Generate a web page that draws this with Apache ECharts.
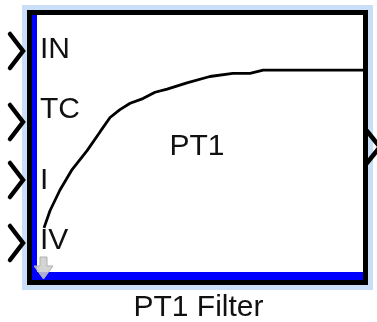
<!DOCTYPE html>
<html>
<head>
<meta charset="utf-8">
<script src="https://cdn.jsdelivr.net/npm/echarts@6/dist/echarts.min.js"></script>
<style>
  html, body { margin: 0; padding: 0; background: #fff; }
  #main { width: 377px; height: 322px; }
</style>
</head>
<body>
<div id="main"></div>
<script>
// step response curve of the PT1 block icon (time, output)
var timeData = [0, 0.19, 0.5, 0.88, 1.35, 1.76, 2.07, 2.38, 2.7, 3.1, 3.48, 3.86, 4.48, 5.2, 5.92, 6.46, 6.87, 10];
var outData = [0, 0.11, 0.24, 0.37, 0.49, 0.61, 0.70, 0.75, 0.79, 0.82, 0.86, 0.88, 0.92, 0.96, 0.98, 0.98, 1.0, 1.0];

// port labels on the left side and block texts
var inPorts = ['IN', 'TC', 'I', 'IV'];
var blockName = 'PT1';
var blockTitle = 'PT1 Filter';

var font = '"Liberation Sans", Arial, sans-serif';

var myChart = echarts.init(document.getElementById('main'));

// label / chevron y positions for each input port
var labelY = [50, 110, 181, 241];
var chevronY = [51, 122, 180, 243];

var graphics = [
  // light blue selection halo
  {type: 'rect', z: 0, shape: {x: 22, y: 5, width: 351, height: 285}, style: {fill: '#c9dff7'}},
  // white block body
  {type: 'rect', z: 0, shape: {x: 27, y: 10, width: 341, height: 275}, style: {fill: '#fff'}},
  // blue strips, left and bottom
  {type: 'rect', z: 1, shape: {x: 31, y: 14, width: 6, height: 268}, style: {fill: '#0000ff'}},
  {type: 'rect', z: 1, shape: {x: 31, y: 272, width: 334, height: 9}, style: {fill: '#0000ff'}},
  // black frame
  {type: 'rect', z: 5, shape: {x: 29.5, y: 12.5, width: 336, height: 270}, style: {fill: null, stroke: '#000', lineWidth: 5}},
  // little grey arrow in the corner
  {type: 'polygon', z: 6, shape: {points: [[40, 257], [47, 257], [47, 266], [53, 266], [43.5, 279], [34, 266], [40, 266]]},
    style: {fill: 'rgba(205,205,205,0.85)', stroke: '#b0b0b0', lineWidth: 1}},
  // output port
  {type: 'polyline', z: 6, shape: {points: [[367, 131], [380, 147], [367, 163]]},
    style: {stroke: '#000', lineWidth: 4.5, lineCap: 'round', fill: null}},
  // block name in the middle
  {type: 'text', z: 6, style: {text: blockName, x: 197, y: 147, align: 'center', verticalAlign: 'middle',
    font: '30px ' + font, fill: '#111'}},
  // title under the block
  {type: 'text', z: 6, style: {text: blockTitle, x: 198.5, y: 308, align: 'center', verticalAlign: 'middle',
    font: '30px ' + font, fill: '#111'}}
];

inPorts.forEach(function (name, i) {
  graphics.push({type: 'polyline', z: 6, shape: {points: [[10, chevronY[i] - 17], [23, chevronY[i]], [10, chevronY[i] + 17]]},
    style: {stroke: '#000', lineWidth: 4.5, lineCap: 'round', fill: null}});
  graphics.push({type: 'text', z: 6, style: {text: name, x: 40, y: labelY[i], align: 'left', verticalAlign: 'middle',
    font: '30px ' + font, fill: '#111'}});
});

var option = {
  animation: false,
  grid: {left: 37, right: 14, top: 15, bottom: 50, show: false},
  xAxis: {type: 'value', min: -0.22, max: 10, show: false},
  yAxis: {type: 'value', min: -0.28, max: 1.35, show: false},
  graphic: graphics,
  series: [{
    type: 'line',
    z: 3,
    symbol: 'none',
    silent: true,
    lineStyle: {color: '#000', width: 2.8},
    data: timeData.map(function (t, i) { return [t, outData[i]]; })
  }]
};
myChart.setOption(option);
</script>
</body>
</html>
